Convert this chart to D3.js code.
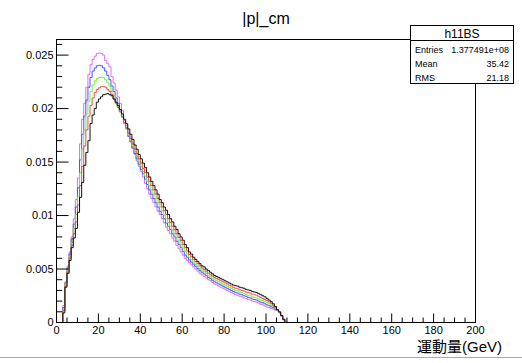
<!DOCTYPE html>
<html lang="en">
<head>
<meta charset="utf-8">
<title>|p|_cm</title>
<script src="https://d3js.org/d3.v7.min.js"></script>
<style>
  body { margin: 0; background: #fff; }
  svg { display: block; background: #fff; }
  text { font-family: "Liberation Sans", Arial, sans-serif; fill: #000; }
  .axis .domain { display: none; }
  .axis line { stroke: #000; }
</style>
</head>
<body>
<div id="chart"></div>
<script>
// histogram bins: 1 GeV wide starting at 0 GeV, contents given in units of 1e-3
var unit = 1e-3;
var xDomain = [0, 200];
var yMax = 0.02646;

var hBlack = [0,0,0,0.9,3.3,4.6,5.8,7.0,7.9,8.8,10.3,11.7,13.1,14.7,15.9,17.0,18.6,19.4,20.0,20.6,
  20.9,21.1,21.3,21.35,21.4,21.3,21.2,20.9,20.6,20.3,19.9,19.5,19.0,18.6,18.1,17.6,17.1,16.6,16.2,15.7,
  15.3,14.9,14.5,14.0,13.6,13.2,12.8,12.4,12.0,11.5,11.2,10.8,10.5,10.1,9.7,9.4,9.0,8.7,8.3,8.0,
  7.7,7.3,7.0,6.6,6.4,6.1,5.9,5.7,5.5,5.3,5.2,5.0,4.85,4.7,4.55,4.4,4.3,4.2,4.1,4.0,
  3.9,3.8,3.7,3.6,3.5,3.45,3.4,3.3,3.25,3.2,3.1,3.05,3.0,2.9,2.85,2.8,2.7,2.6,2.5,2.4,
  2.25,2.1,1.95,1.75,1.5,1.2,1.0,0.66,0.3];

var hRed = [0,0,0,1.1,3.4,4.7,6.0,7.2,8.3,9.4,11.0,12.8,14.6,16.5,18.0,19.3,20.3,21.0,21.5,21.8,
  21.95,22.05,22.05,22.0,21.8,21.6,21.3,20.9,20.5,20.1,19.7,19.2,18.7,18.2,17.7,17.2,16.7,16.2,15.8,15.3,
  14.9,14.4,14.0,13.6,13.2,12.8,12.4,12.0,11.6,11.2,10.8,10.45,10.1,9.7,9.35,9.0,8.65,8.3,7.95,7.65,
  7.3,7.0,6.7,6.35,6.15,5.9,5.7,5.5,5.3,5.1,4.95,4.8,4.6,4.5,4.35,4.2,4.1,4.0,3.9,3.8,
  3.7,3.6,3.5,3.4,3.3,3.2,3.15,3.05,3.0,2.95,2.85,2.8,2.75,2.65,2.6,2.55,2.45,2.35,2.25,2.15,
  2.05,1.92,1.8,1.62,1.42,1.18,0.97,0.65,0.29];

var hGreen = [0,0,0,1.2,3.6,4.9,6.2,7.5,8.8,10.1,11.8,14.0,16.2,18.0,19.5,20.7,21.6,22.2,22.6,22.8,
  22.9,22.95,22.9,22.7,22.4,22.1,21.6,21.2,20.7,20.2,19.7,19.2,18.6,18.1,17.5,17.0,16.5,16.0,15.5,15.0,
  14.6,14.1,13.7,13.2,12.8,12.4,12.0,11.6,11.2,10.8,10.45,10.05,9.7,9.35,9.0,8.65,8.3,7.95,7.6,7.3,
  6.95,6.65,6.4,6.1,5.9,5.65,5.45,5.25,5.05,4.9,4.75,4.6,4.4,4.3,4.15,4.0,3.9,3.8,3.7,3.6,
  3.5,3.4,3.3,3.2,3.1,3.0,2.95,2.85,2.8,2.7,2.65,2.55,2.5,2.4,2.35,2.3,2.2,2.1,2.05,1.95,
  1.85,1.75,1.62,1.5,1.35,1.15,0.95,0.64,0.28];

var hBlue = [0,0,0,1.4,3.7,5.1,6.4,7.8,9.2,10.8,12.6,15.2,17.6,19.3,20.8,22.0,22.9,23.5,23.8,24.0,
  24.05,24.0,23.8,23.5,23.1,22.7,22.1,21.6,21.0,20.5,19.9,19.3,18.6,18.1,17.4,16.9,16.3,15.8,15.3,14.8,
  14.3,13.9,13.4,12.9,12.4,12.0,11.6,11.2,10.8,10.4,10.1,9.7,9.3,9.0,8.7,8.3,8.0,7.6,7.3,7.0,
  6.65,6.3,6.1,5.85,5.65,5.45,5.25,5.05,4.85,4.7,4.55,4.4,4.2,4.1,3.95,3.8,3.7,3.6,3.5,3.4,
  3.3,3.2,3.1,3.0,2.9,2.8,2.75,2.65,2.6,2.5,2.45,2.35,2.3,2.2,2.15,2.1,2.0,1.9,1.85,1.75,
  1.65,1.57,1.47,1.38,1.25,1.12,0.92,0.62,0.26];

var hMagenta = [0,0,0,1.6,3.8,5.3,6.6,8.0,9.7,11.5,13.5,16.7,19.0,20.5,22.0,23.2,24.1,24.6,24.9,25.15,
  25.2,25.15,25.0,24.5,24.2,23.9,23.0,22.4,21.7,21.1,20.5,19.8,18.9,18.4,17.5,16.9,16.3,15.7,15.1,14.6,
  14.1,13.6,13.0,12.5,12.0,11.6,11.2,10.8,10.4,10.1,9.7,9.3,8.9,8.6,8.3,7.9,7.6,7.2,6.9,6.6,
  6.3,6.0,5.8,5.6,5.4,5.2,5.0,4.8,4.6,4.45,4.3,4.15,4.0,3.9,3.75,3.6,3.5,3.4,3.3,3.2,
  3.1,3.0,2.9,2.8,2.7,2.6,2.55,2.45,2.4,2.3,2.25,2.15,2.1,2.0,1.95,1.9,1.8,1.7,1.65,1.55,
  1.45,1.4,1.3,1.25,1.15,1.1,0.9,0.6,0.25];

// drawing order: last one ends up on top
var seriesList = [hMagenta, hBlue, hGreen, hRed, hBlack];
var seriesColors = ["#e46cf2", "#3a5cff", "#74ee2c", "#f24a4a", "#111"];

var xMajorTicks = [0, 20, 40, 60, 80, 100, 120, 140, 160, 180, 200];
var yMajorTicks = [0, 0.005, 0.01, 0.015, 0.02, 0.025];
var yTickLabels = ["0", "0.005", "0.01", "0.015", "0.02", "0.025"];

var statLabels = ["Entries", "Mean", "RMS"];
var statValues = ["1.377491e+08", "35.42", "21.18"];

var width = 522, height = 363;

var svg = d3.select("#chart").append("svg")
    .attr("width", width)
    .attr("height", height);

var x = d3.scaleLinear().domain(xDomain).range([56, 475]);
var y = d3.scaleLinear().domain([0, yMax]).range([322, 39]);

// histograms as step outlines
var line = d3.line()
    .x(function(d) { return x(d[0]); })
    .y(function(d) { return y(d[1]); });

function steps(vals) {
    var pts = [[xDomain[0], 0]];
    vals.forEach(function(v, i) {
        pts.push([i, v * unit]);
        pts.push([i + 1, v * unit]);
    });
    pts.push([vals.length, 0]);
    pts.push([xDomain[1], 0]);
    return pts;
}

var hg = svg.append("g").attr("transform", "translate(0.5,0.5)");
seriesList.forEach(function(vals, k) {
    hg.append("path")
        .attr("d", line(steps(vals)))
        .attr("fill", "none")
        .attr("stroke", seriesColors[k])
        .attr("stroke-width", 1);
});

// axes (ticks point inside the frame)
var xMinor = d3.range(0, 201, 5).filter(function(v) { return v % 20 !== 0; });
var yMinor = d3.range(0, 27).map(function(v) { return v / 1000; })
    .filter(function(v, i) { return i % 5 !== 0; });

svg.append("g").attr("class", "axis")
    .attr("transform", "translate(0," + y(0) + ")")
    .call(d3.axisBottom(x).tickValues(xMinor).tickSize(-4.5).tickFormat(""));
svg.append("g").attr("class", "axis")
    .attr("transform", "translate(0," + y(0) + ")")
    .call(d3.axisBottom(x).tickValues(xMajorTicks).tickSize(-8.5).tickPadding(4.5)
        .tickFormat(d3.format("d")))
    .selectAll("text").style("font-size", "11px");

svg.append("g").attr("class", "axis")
    .attr("transform", "translate(" + x(0) + ",0)")
    .call(d3.axisLeft(y).tickValues(yMinor).tickSize(-6.3).tickFormat(""));
svg.append("g").attr("class", "axis")
    .attr("transform", "translate(" + x(0) + ",0)")
    .call(d3.axisLeft(y).tickValues(yMajorTicks).tickSize(-12.5).tickPadding(2.5)
        .tickFormat(function(d, i) { return yTickLabels[i]; }))
    .selectAll("text").style("font-size", "11px");

// frame
svg.append("rect")
    .attr("x", x(0) + 0.5).attr("y", y(yMax) + 0.5)
    .attr("width", x(200) - x(0)).attr("height", y(0) - y(yMax))
    .attr("fill", "none").attr("stroke", "#000");

// title and axis title
svg.append("text")
    .attr("x", 266).attr("y", 24)
    .attr("text-anchor", "middle")
    .style("font-size", "16px")
    .text("|p|_cm");

svg.append("text")
    .attr("x", 502).attr("y", 352)
    .attr("text-anchor", "end")
    .style("font-family", "'Liberation Sans', 'Noto Sans CJK JP', sans-serif")
    .style("font-size", "15px")
    .text("運動量(GeV)");

// stats box
var box = svg.append("g");
box.append("rect")
    .attr("x", 410.5).attr("y", 25.5).attr("width", 103).attr("height", 58)
    .attr("fill", "#fff").attr("stroke", "#000");
box.append("line")
    .attr("x1", 410.5).attr("x2", 513.5).attr("y1", 40.5).attr("y2", 40.5)
    .attr("stroke", "#000");
box.append("text")
    .attr("x", 462).attr("y", 37.5)
    .attr("text-anchor", "middle")
    .style("font-size", "12px")
    .text("h11BS");
statLabels.forEach(function(s, i) {
    var yy = 52.5 + i * 14;
    box.append("text").attr("x", 415).attr("y", yy)
        .style("font-size", "9px").text(s);
    box.append("text").attr("x", 509).attr("y", yy)
        .attr("text-anchor", "end")
        .style("font-size", "9px").text(statValues[i]);
});

// bottom edge of the window
svg.append("line")
    .attr("x1", 0).attr("x2", width).attr("y1", 357.5).attr("y2", 357.5)
    .attr("stroke", "#aaa");
</script>
</body>
</html>
